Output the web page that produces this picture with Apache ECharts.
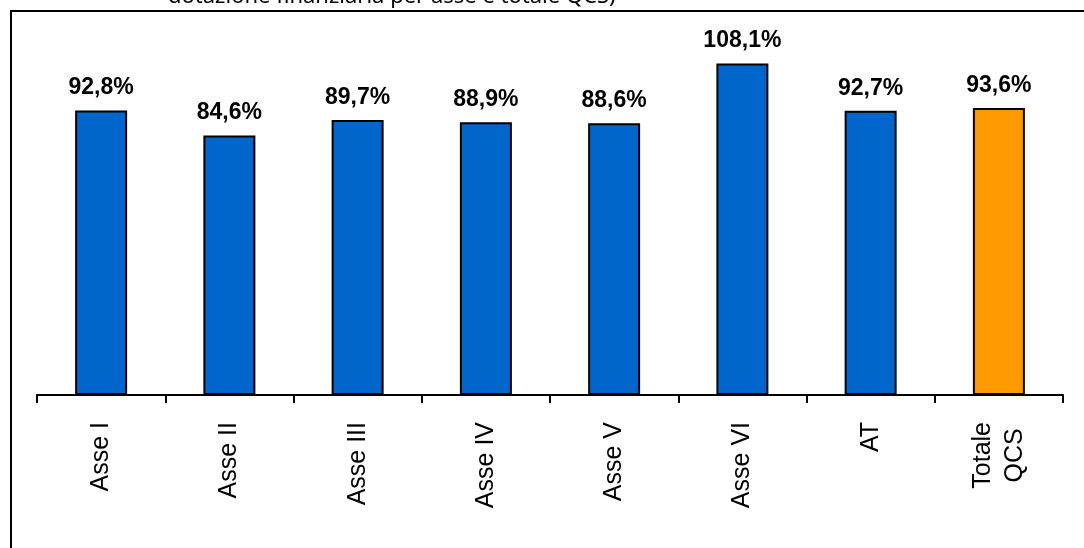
<!DOCTYPE html>
<html>
<head>
<meta charset="utf-8">
<script src="https://cdn.jsdelivr.net/npm/echarts@6/dist/echarts.min.js"></script>
<style>
html,body{margin:0;padding:0;background:#fff;}
#chart{width:1084px;height:548px;}
</style>
</head>
<body>
<div id="chart"></div>
<script>
var categories = ['Asse I','Asse II','Asse III','Asse IV','Asse V','Asse VI','AT','Totale\nQCS'];
var values = [92.8, 84.6, 89.7, 88.9, 88.6, 108.1, 92.7, 93.6];
var barColors = ['#0066CC','#0066CC','#0066CC','#0066CC','#0066CC','#0066CC','#0066CC','#FF9900'];
var titleText = 'dotazione finanziaria per asse e totale QCS)';

var myChart = echarts.init(document.getElementById('chart'));

var option = {
    animation: false,
    graphic: [
        {
            type: 'rect',
            shape: {x: 11, y: 11, width: 1200, height: 700},
            style: {fill: 'none', stroke: '#000', lineWidth: 2}
        },
        {
            type: 'text',
            left: 168,
            top: -14,
            style: {text: titleText, font: '22px "Noto Sans"', fill: '#000'}
        }
    ],
    grid: {
        left: 37,
        right: 21,
        top: 27,
        bottom: 153
    },
    xAxis: {
        type: 'category',
        data: categories,
        axisLine: {lineStyle: {color: '#000', width: 2}},
        axisTick: {show: true, length: 8, interval: 0, lineStyle: {color: '#000', width: 2}},
        axisLabel: {
            interval: 0,
            rotate: 90,
            margin: 27,
            color: '#000',
            formatter: function (v) {
                return v.split('\n').map(function (s) { return '{c|' + s + '}'; }).join('\n');
            },
            rich: {
                c: {
                    align: 'center',
                    fontFamily: '"Liberation Sans", Arial',
                    fontSize: 25,
                    lineHeight: 32,
                    color: '#000'
                }
            }
        }
    },
    yAxis: {
        type: 'value',
        min: 0,
        max: 120,
        show: false,
        splitLine: {show: false}
    },
    series: [
        {
            type: 'bar',
            barWidth: 52,
            data: values.map(function (v, i) {
                return {value: v, itemStyle: {color: barColors[i]}};
            }),
            itemStyle: {borderColor: '#000', borderWidth: 2},
            label: {
                show: true,
                position: 'top',
                distance: 11,
                color: '#000',
                fontFamily: '"Liberation Sans", Arial',
                fontWeight: 'bold',
                fontSize: 23,
                formatter: function (p) {
                    return p.value.toFixed(1).replace('.', ',') + '%';
                }
            }
        }
    ]
};
myChart.setOption(option);
</script>
</body>
</html>
